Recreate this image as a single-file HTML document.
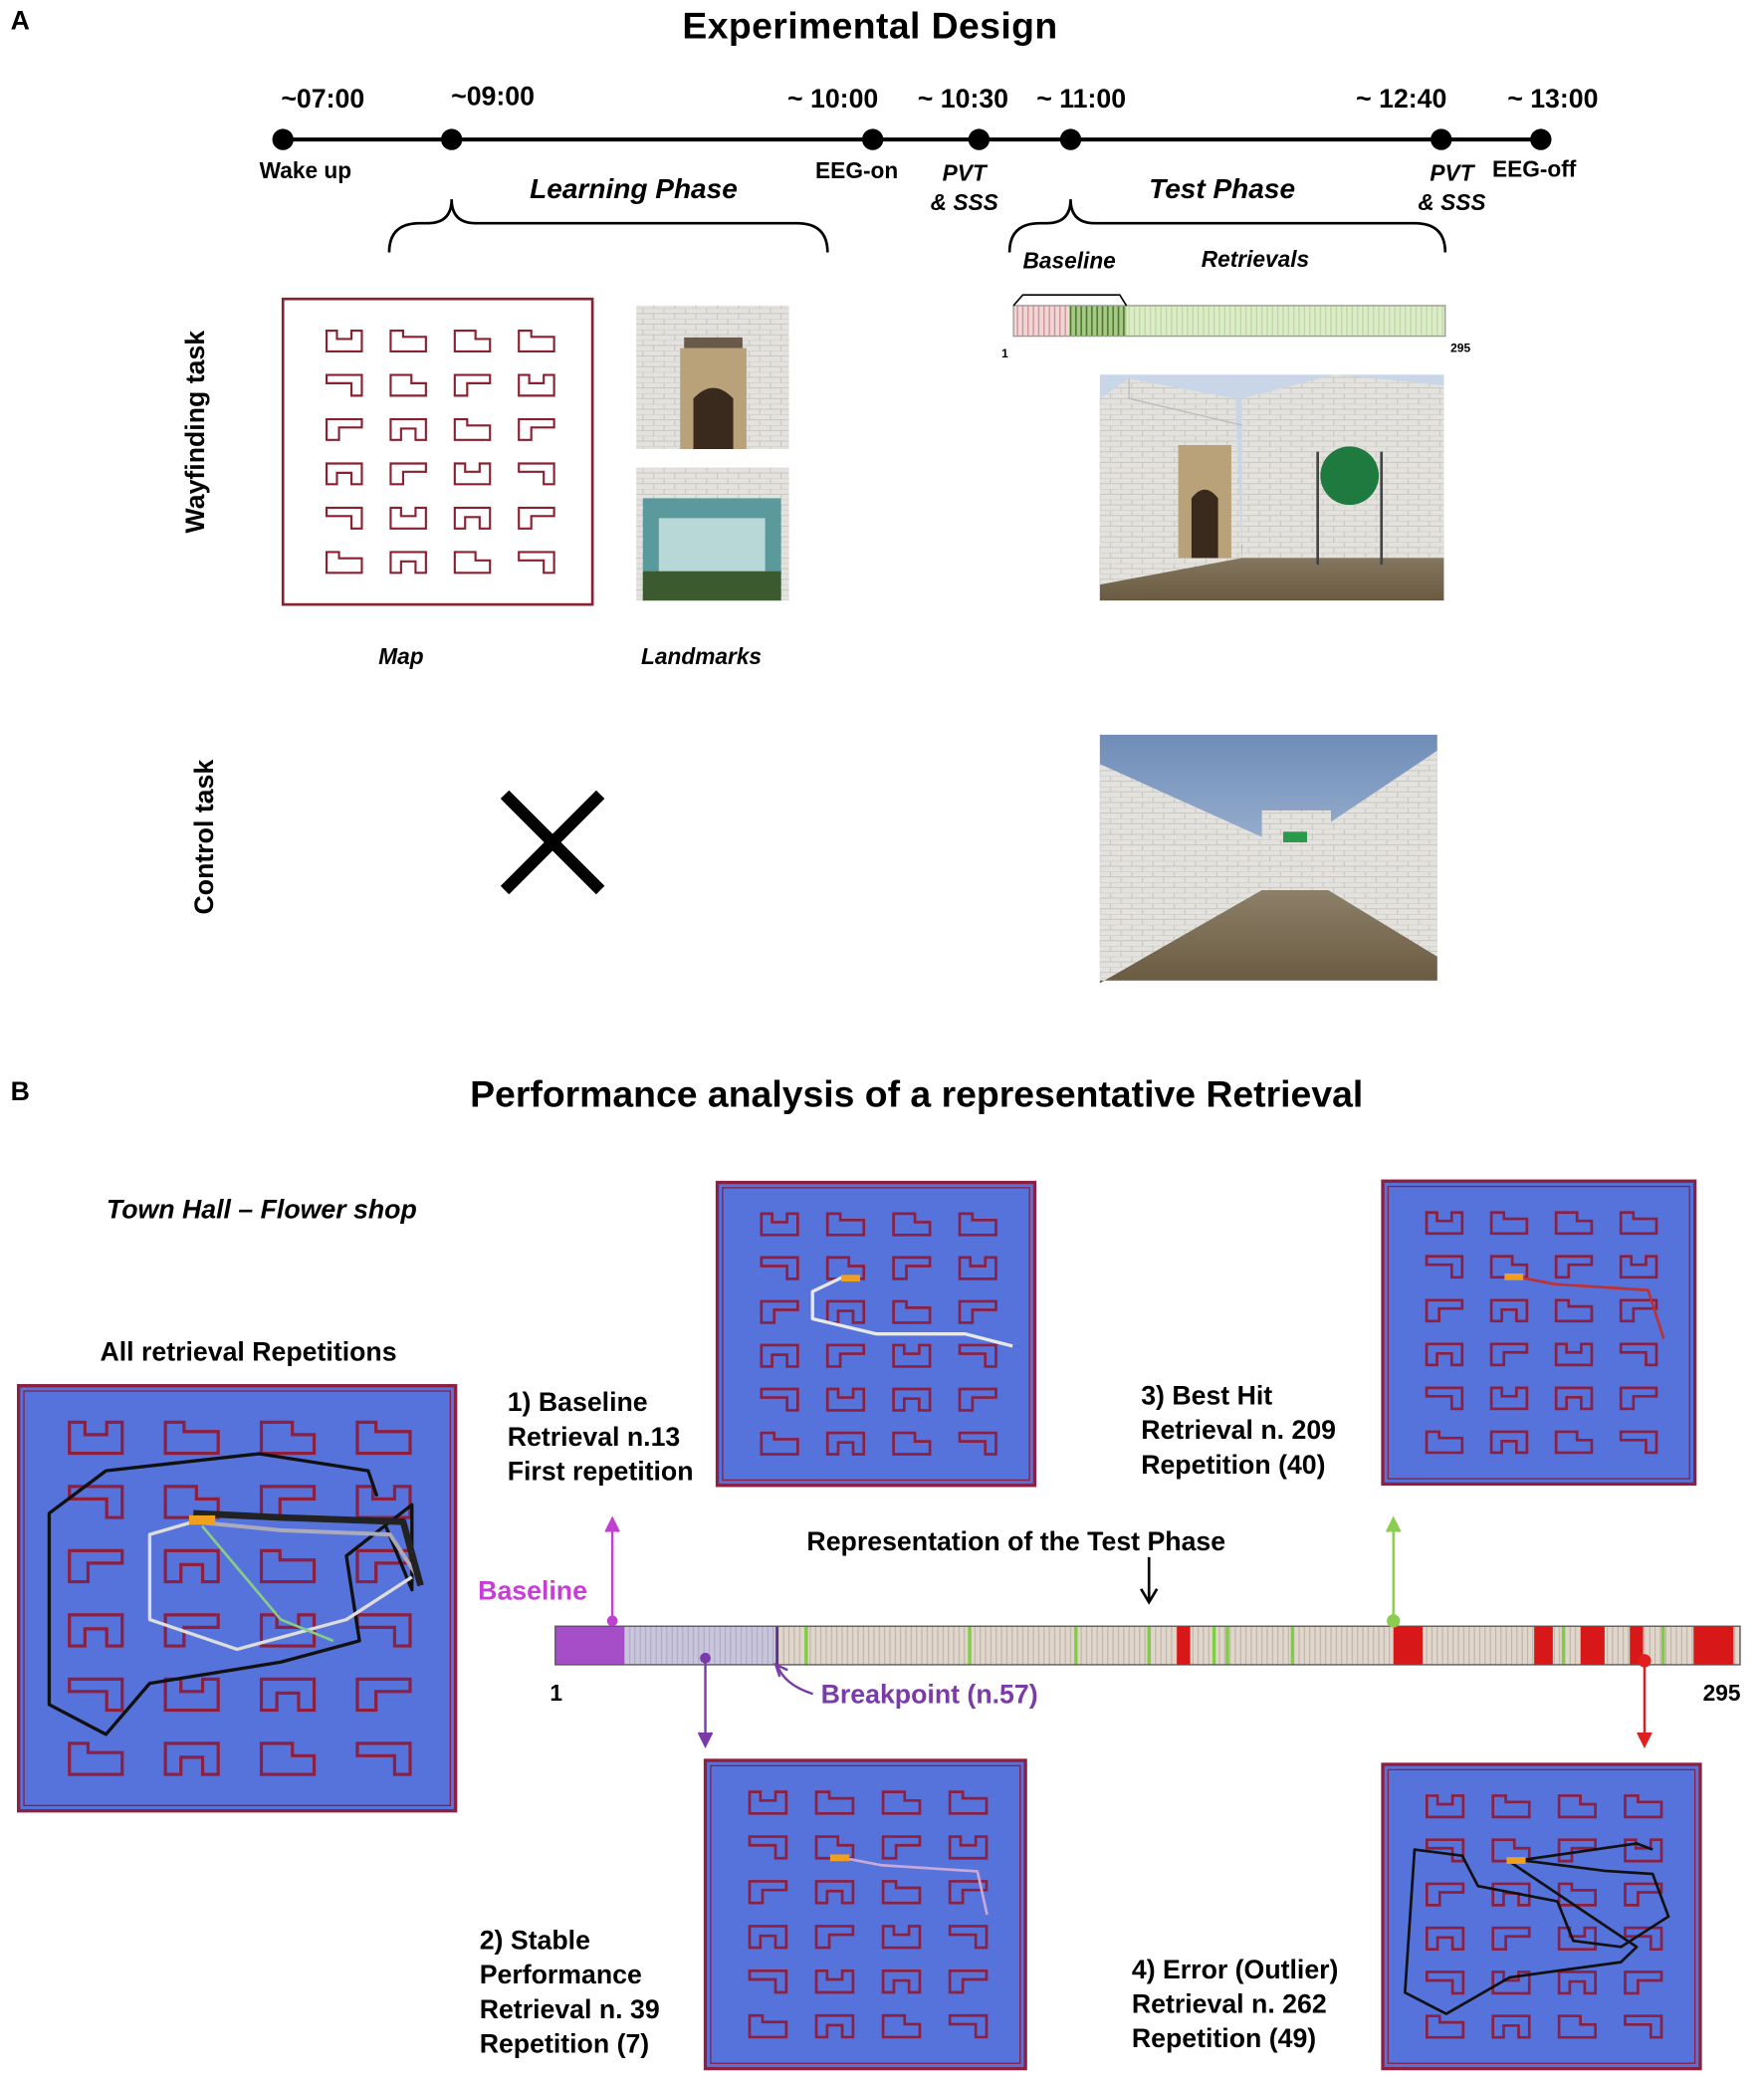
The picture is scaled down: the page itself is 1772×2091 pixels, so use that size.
<!DOCTYPE html>
<html><head><meta charset="utf-8">
<style>
html,body{margin:0;padding:0;background:#fff;}
body{width:1772px;height:2091px;overflow:hidden;position:relative;}
#w{position:absolute;left:0;top:0;width:1328px;height:1567px;transform:scale(1.33434);transform-origin:0 0;font-family:"Liberation Sans",Arial,sans-serif;color:#000;}
.t{position:absolute;white-space:nowrap;font-weight:bold;}
.c{transform:translateX(-50%);}
.i{font-style:italic;}
</style></head><body>
<div id="w">
<svg id="s" width="1328" height="1567" style="position:absolute;left:0;top:0">
<defs>
<pattern id="brick" width="16" height="8" patternUnits="userSpaceOnUse"><rect width="16" height="8" fill="#e4e2de"/><path d="M0 0H16M0 4H16M4 0V4M12 4V8" stroke="#c9c6c0" stroke-width="0.8"/></pattern>
<pattern id="pv" width="4" height="10" patternUnits="userSpaceOnUse"><rect width="4" height="10" fill="#e0d6cc"/><path d="M2 0V10" stroke="#b9aca0" stroke-width="0.7"/></pattern>
<pattern id="pl" width="4" height="10" patternUnits="userSpaceOnUse"><rect width="4" height="10" fill="#c9c6dc"/><path d="M2 0V10" stroke="#a8a2c0" stroke-width="0.7"/></pattern>
<pattern id="gv" width="4" height="10" patternUnits="userSpaceOnUse"><rect width="4" height="10" fill="#dcecc8"/><path d="M2 0V10" stroke="#b8d49a" stroke-width="0.8"/></pattern>
<pattern id="pk" width="4" height="10" patternUnits="userSpaceOnUse"><rect width="4" height="10" fill="#f0d6d6"/><path d="M2 0V10" stroke="#c88a8a" stroke-width="0.9"/></pattern>
<pattern id="dg" width="4" height="10" patternUnits="userSpaceOnUse"><rect width="4" height="10" fill="#a8c888"/><path d="M2 0V10" stroke="#4c7a2c" stroke-width="1.2"/></pattern>
<linearGradient id="sky" x1="0" y1="0" x2="0" y2="1"><stop offset="0" stop-color="#6f8db8"/><stop offset="1" stop-color="#c8d6e8"/></linearGradient>
<linearGradient id="gr" x1="0" y1="0" x2="0" y2="1"><stop offset="0" stop-color="#8d8068"/><stop offset="1" stop-color="#6a5a42"/></linearGradient>
</defs>
<line x1="213" y1="105" x2="1160" y2="105" stroke="#000" stroke-width="3"/>
<g fill="#000"><circle cx="213" cy="105" r="8"/><circle cx="340" cy="105" r="8"/><circle cx="657" cy="105" r="8"/><circle cx="737" cy="105" r="8"/><circle cx="806" cy="105" r="8"/><circle cx="1085" cy="105" r="8"/><circle cx="1160" cy="105" r="8"/></g>
<path d="M293 190 Q293 168 316 168 H322 Q340 168 340 150 Q340 168 358 168 H600 Q623 168 623 190" fill="none" stroke="#000" stroke-width="2"/>
<path d="M760 190 Q760 168 783 168 H788 Q806 168 806 150 Q806 168 824 168 H1065 Q1088 168 1088 190" fill="none" stroke="#000" stroke-width="2"/>
<rect x="763" y="230" width="42" height="23" fill="url(#pk)"/>
<rect x="805" y="230" width="43" height="23" fill="url(#dg)"/>
<rect x="848" y="230" width="240" height="23" fill="url(#gv)"/>
<rect x="763" y="230" width="325" height="23" fill="none" stroke="#999" stroke-width="1"/>
<path d="M763 230 L770 222 H843 L848 230" fill="none" stroke="#000" stroke-width="1.2"/>
<rect x="213" y="225" width="233" height="230" fill="#fff" stroke="#8b2030" stroke-width="2"/>
<g id="mapA"></g>
<rect x="479" y="230" width="115" height="108" fill="url(#brick)"/>
<rect x="512" y="262" width="50" height="76" fill="#b9a27a"/>
<path d="M522 338 V300 Q537 284 552 300 V338Z" fill="#3a2a1e"/>
<rect x="515" y="254" width="44" height="8" fill="#6a5a4a"/>
<rect x="479" y="352" width="115" height="100" fill="url(#brick)"/>
<rect x="484" y="375" width="104" height="77" fill="#5a9a9c"/>
<rect x="496" y="390" width="80" height="40" fill="#b8d8d8"/>
<rect x="484" y="430" width="104" height="22" fill="#3c5a30"/>
<rect x="828" y="282" width="259" height="170" fill="#c8d6e8"/>
<rect x="828" y="410" width="259" height="42" fill="url(#gr)"/>
<path d="M828 300 L850 285 L930 300 L935 420 L828 440Z" fill="url(#brick)"/>
<path d="M935 300 L1005 282 L1087 290 L1087 420 L935 420Z" fill="url(#brick)"/>
<path d="M850 285 L850 300 L935 320" fill="none" stroke="#bbb"/>
<rect x="887" y="335" width="40" height="85" fill="#b9a27a"/>
<path d="M897 420 V375 Q907 362 917 375 V420Z" fill="#3a2a1e"/>
<circle cx="1016" cy="358" r="22" fill="#1e7a3e"/>
<line x1="992" y1="340" x2="992" y2="425" stroke="#444" stroke-width="2"/>
<line x1="1040" y1="340" x2="1040" y2="425" stroke="#444" stroke-width="2"/>
<rect x="828" y="553" width="254" height="185" fill="url(#sky)"/>
<path d="M828 575 L950 630 L950 670 L828 740Z" fill="url(#brick)"/>
<path d="M1082 565 L1000 620 L1000 675 L1082 720Z" fill="url(#brick)"/>
<rect x="950" y="610" width="52" height="62" fill="url(#brick)"/>
<rect x="966" y="626" width="18" height="8" fill="#2a9a4a"/>
<path d="M828 740 L950 670 H1000 L1082 720 V738 H828Z" fill="url(#gr)"/>
<path d="M380 598 L452 670 M452 598 L380 670" stroke="#000" stroke-width="9"/>
<rect x="418" y="1224" width="892" height="29" fill="url(#pv)"/>
<rect x="470" y="1224" width="115" height="29" fill="url(#pl)"/>
<rect x="418" y="1224" width="52" height="29" fill="#a64ec8"/>
<g fill="#d81818"><rect x="886" y="1224" width="10" height="29"/><rect x="1049" y="1224" width="22" height="29"/><rect x="1155" y="1224" width="14" height="29"/><rect x="1190" y="1224" width="18" height="29"/><rect x="1227" y="1224" width="10" height="29"/><rect x="1275" y="1224" width="30" height="29"/></g>
<g stroke="#7cd040" stroke-width="2.5"><line x1="607" y1="1224" x2="607" y2="1253"/><line x1="730" y1="1224" x2="730" y2="1253"/><line x1="810" y1="1224" x2="810" y2="1253"/><line x1="865" y1="1224" x2="865" y2="1253"/><line x1="914" y1="1224" x2="914" y2="1253"/><line x1="924" y1="1224" x2="924" y2="1253"/><line x1="973" y1="1224" x2="973" y2="1253"/><line x1="1177" y1="1224" x2="1177" y2="1253"/><line x1="1252" y1="1224" x2="1252" y2="1253"/></g>
<line x1="585" y1="1224" x2="585" y2="1253" stroke="#5a2a8a" stroke-width="2"/>
<rect x="418" y="1224" width="892" height="29" fill="none" stroke="#555" stroke-width="1"/>
<g fill="none" stroke-width="1.8">
<path d="M461 1220 V1145" stroke="#c040d0"/><path d="M456 1153 L461 1143 L466 1153" stroke="#c040d0" fill="#c040d0"/>
<circle cx="461" cy="1220" r="4" fill="#c040d0" stroke="none"/>
<path d="M531 1248 V1312" stroke="#7a3aa8"/><path d="M526 1304 L531 1314 L536 1304" stroke="#7a3aa8" fill="#7a3aa8"/>
<circle cx="531" cy="1248" r="4" fill="#7a3aa8" stroke="none"/>
<path d="M1049 1220 V1145" stroke="#8ccc50"/><path d="M1044 1153 L1049 1143 L1054 1153" stroke="#8ccc50" fill="#8ccc50"/>
<circle cx="1049" cy="1220" r="5" fill="#8ccc50" stroke="none"/>
<path d="M1238 1250 V1312" stroke="#e02020"/><path d="M1233 1304 L1238 1314 L1243 1304" stroke="#e02020" fill="#e02020"/>
<circle cx="1238" cy="1250" r="5" fill="#e02020" stroke="none"/>
<path d="M865 1172 V1204" stroke="#000" stroke-width="2"/><path d="M859 1196 L865 1206 L871 1196" stroke="#000" stroke-width="2"/>
<path d="M585 1253 Q590 1268 612 1275" stroke="#7a3aa8"/><path d="M587 1262 L584 1253 L593 1257" stroke="#7a3aa8"/>
</g>
<g id="maps"></g>
</svg>

<div class="t" style="left:8px;top:5px;font-size:20px">A</div>
<div class="t c" style="left:655px;top:4px;font-size:28px;letter-spacing:0.3px">Experimental Design</div>
<div class="t c" style="left:243px;top:64px;font-size:20px">~07:00</div>
<div class="t c" style="left:371px;top:62px;font-size:20px">~09:00</div>
<div class="t c" style="left:627px;top:64px;font-size:20px">~ 10:00</div>
<div class="t c" style="left:725px;top:64px;font-size:20px">~ 10:30</div>
<div class="t c" style="left:814px;top:64px;font-size:20px">~ 11:00</div>
<div class="t c" style="left:1055px;top:64px;font-size:20px">~ 12:40</div>
<div class="t c" style="left:1169px;top:64px;font-size:20px">~ 13:00</div>
<div class="t c" style="left:230px;top:119px;font-size:17px">Wake up</div>
<div class="t c" style="left:645px;top:119px;font-size:17px">EEG-on</div>
<div class="t c i" style="left:726px;top:120px;font-size:17px;line-height:22px;text-align:center">PVT<br>&amp; SSS</div>
<div class="t c i" style="left:1093px;top:120px;font-size:17px;line-height:22px;text-align:center">PVT<br>&amp; SSS</div>
<div class="t c" style="left:1155px;top:118px;font-size:17px">EEG-off</div>
<div class="t c i" style="left:477px;top:131px;font-size:21px">Learning Phase</div>
<div class="t c i" style="left:920px;top:131px;font-size:21px">Test Phase</div>
<div class="t c i" style="left:805px;top:187px;font-size:17px">Baseline</div>
<div class="t c i" style="left:945px;top:186px;font-size:17px">Retrievals</div>
<div class="t" style="left:754px;top:261px;font-size:9px">1</div>
<div class="t" style="left:1092px;top:257px;font-size:9px">295</div>
<div class="t" style="left:148px;top:325px;font-size:20px;transform:translate(-50%,-50%) rotate(-90deg)">Wayfinding task</div>
<div class="t" style="left:155px;top:630px;font-size:20px;transform:translate(-50%,-50%) rotate(-90deg)">Control task</div>
<div class="t c i" style="left:302px;top:485px;font-size:17px">Map</div>
<div class="t c i" style="left:528px;top:485px;font-size:17px">Landmarks</div>

<div class="t" style="left:8px;top:811px;font-size:20px">B</div>
<div class="t c" style="left:690px;top:808px;font-size:28px;letter-spacing:0px">Performance analysis of a representative Retrieval</div>
<div class="t c i" style="left:197px;top:900px;font-size:20px">Town Hall – Flower shop</div>
<div class="t c" style="left:187px;top:1007px;font-size:20px">All retrieval Repetitions</div>
<div class="t" style="left:382px;top:1043px;font-size:20px;line-height:26px">1) Baseline<br>Retrieval n.13<br>First repetition</div>
<div class="t" style="left:859px;top:1038px;font-size:20px;line-height:26px">3) Best Hit<br>Retrieval n. 209<br>Repetition (40)</div>
<div class="t" style="left:361px;top:1448px;font-size:20px;line-height:26px">2) Stable<br>Performance<br>Retrieval n. 39<br>Repetition (7)</div>
<div class="t" style="left:852px;top:1470px;font-size:20px;line-height:26px">4) Error (Outlier)<br>Retrieval n. 262<br>Repetition (49)</div>
<div class="t c" style="left:765px;top:1150px;font-size:20px">Representation of the Test Phase</div>
<div class="t c" style="left:401px;top:1187px;font-size:20px;color:#c83cd8">Baseline</div>
<div class="t" style="left:414px;top:1265px;font-size:17px">1</div>
<div class="t" style="left:1282px;top:1265px;font-size:17px">295</div>
<div class="t" style="left:618px;top:1265px;font-size:20px;color:#7a3aa8">Breakpoint (n.57)</div>
</div>
<script>
var NS="http://www.w3.org/2000/svg";
var shapes=["M0 0H12V6H34V20H0Z","M0 0H34V20H24V9H10V20H0Z","M0 0H34V20H24V8H0Z","M0 0H34V8H12V20H0Z","M0 0H10V8H24V0H34V20H0Z","M0 0H20V8H34V20H0Z"];
var order=[[4,0,5,0],[2,5,3,4],[3,1,0,3],[1,3,4,2],[2,4,1,3],[0,1,5,2]];
function el(p,t,a){var e=document.createElementNS(NS,t);for(var k in a)e.setAttribute(k,a[k]);p.appendChild(e);return e;}
function drawMap(g,x,y,w,h,blue,col,sw,paths){
 if(blue){el(g,"rect",{x:x,y:y,width:w,height:h,fill:"#5673dc",stroke:"#8b2040","stroke-width":2.5});
  el(g,"rect",{x:x+4,y:y+4,width:w-8,height:h-8,fill:"none",stroke:"#8b2040","stroke-width":1});}
 var cw=(w-40)/4,ch=(h-30)/6,sc=Math.min(cw*0.55/34,ch*0.55/20);
 for(var r=0;r<6;r++)for(var c=0;c<4;c++){
  var px=x+22+c*cw+(cw-34*sc)/2, py=y+15+r*ch+(ch-20*sc)/2;
  el(g,"path",{d:shapes[order[r][c]],transform:"translate("+px+","+py+") scale("+sc+")",fill:"none",stroke:col,"stroke-width":sw/sc});
 }
 (paths||[]).forEach(function(p){
  var d=p[1].map(function(q,i){return (i?"L":"M")+(x+q[0]*w)+" "+(y+q[1]*h);}).join(" ");
  el(g,"path",{d:d,fill:"none",stroke:p[0],"stroke-width":p[2]||2,"stroke-linejoin":"round"});
 });
 if(blue){var ox=x+w*0.39,oy=y+h*0.305;el(g,"rect",{x:ox,y:oy,width:w*0.06,height:h*0.022,fill:"#f0a020"});}
}
drawMap(document.getElementById("mapA"),213,225,233,230,false,"#8b2030",1.6);
var G=document.getElementById("maps");
drawMap(G,14,1043,329,320,true,"#8b2040",2.4,[
 ["#111",[[.82,.26],[.8,.2],[.55,.16],[.2,.2],[.07,.3],[.07,.75],[.2,.82],[.3,.7],[.6,.65],[.78,.6],[.75,.4],[.9,.28],[.9,.48],[.84,.33]],2.5],
 ["#ddd",[[.4,.32],[.3,.35],[.3,.55],[.5,.62],[.75,.55],[.9,.45]],2.5],
 ["#aab",[[.4,.32],[.6,.34],[.85,.35],[.92,.46]],3],
 ["#222",[[.4,.3],[.6,.31],[.88,.32],[.92,.47]],5],
 ["#8c8",[[.42,.33],[.6,.55],[.72,.6]],2]]);
drawMap(G,540,890,239,228,true,"#8b2040",2,[["#e8e8e8",[[.4,.31],[.3,.36],[.3,.45],[.5,.5],[.78,.5],[.93,.54]],2.5]]);
drawMap(G,1041,889,235,228,true,"#8b2040",2,[["#c03030",[[.4,.31],[.55,.34],[.85,.36],[.9,.52]],2]]);
drawMap(G,531,1325,241,232,true,"#8b2040",2,[["#c8a8d8",[[.4,.31],[.55,.34],[.85,.36],[.88,.5]],2]]);
drawMap(G,1041,1328,239,229,true,"#8b2040",2,[["#111",[[.4,.31],[.7,.35],[.85,.36],[.9,.5],[.75,.6],[.6,.58],[.55,.45],[.3,.4],[.25,.3],[.1,.28],[.07,.75],[.2,.82],[.4,.7],[.75,.65],[.8,.6],[.4,.32],[.8,.26],[.85,.28]],2]]);
</script>
</body></html>
